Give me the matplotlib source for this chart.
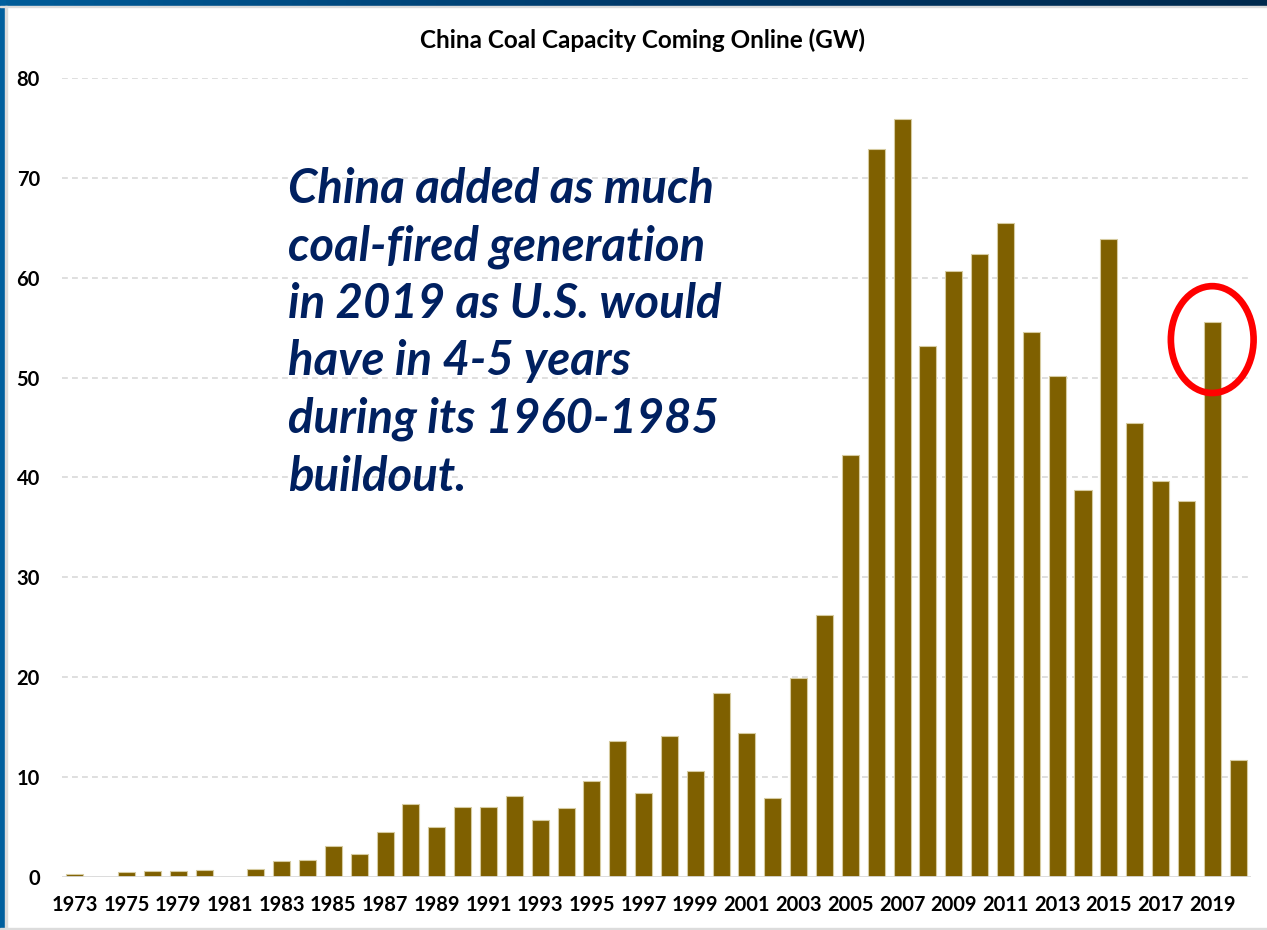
import matplotlib.pyplot as plt
import numpy as np
from matplotlib.colors import LinearSegmentedColormap
from matplotlib.patches import Ellipse

years = [1973, 1974, 1975, 1978, 1979, 1980, 1981, 1982, 1983, 1984,
         1985, 1986, 1987, 1988, 1989, 1990, 1991, 1992, 1993, 1994,
         1995, 1996, 1997, 1998, 1999, 2000, 2001, 2002, 2003, 2004,
         2005, 2006, 2007, 2008, 2009, 2010, 2011, 2012, 2013, 2014,
         2015, 2016, 2017, 2018, 2019, 2020]
capacity_gw = [0.3, 0.0, 0.45, 0.6, 0.55, 0.7, 0.0, 0.8, 1.6, 1.7,
               3.05, 2.25, 4.45, 7.3, 5.0, 7.0, 7.0, 8.05, 5.65, 6.9,
               9.6, 13.6, 8.4, 14.05, 10.55, 18.35, 14.35, 7.9, 19.9, 26.2,
               42.2, 72.9, 75.9, 53.2, 60.7, 62.4, 65.5, 54.55, 50.2, 38.7,
               63.9, 45.4, 39.6, 37.6, 55.55, 11.65]
y_ticks = [0, 10, 20, 30, 40, 50, 60, 70, 80]

title = "China Coal Capacity Coming Online (GW)"
callout = ("China added as much\n"
           "coal-fired generation\n"
           "in 2019 as U.S. would\n"
           "have in 4-5 years\n"
           "during its 1960-1985\n"
           "buildout.")
highlight_year = 2019

BAR = "#7f6000"
NAVY = "#002060"
GRID = "#d9d9d9"

W, H = 1267, 930
fig = plt.figure(figsize=(W / 100, H / 100), dpi=100)

# slide frame: blue bar on top, blue strip on the left, thin grey rules
top = fig.add_axes([0, 1 - 6 / H, 1, 6 / H])
frame_cmap = LinearSegmentedColormap.from_list("frame", ["#005d9a", "#003a6a", "#002a4e"])
top.imshow(np.linspace(0, 1, 256)[None, :], aspect="auto", cmap=frame_cmap,
           extent=[0, 1, 0, 1])
top.set_axis_off()
fig.patches.append(plt.Rectangle((0, 0), 5 / W, 1, transform=fig.transFigure,
                                 color="#005f9e", zorder=5))
fig.patches.append(plt.Rectangle((5 / W, 0), 1.5 / W, 1 - 6 / H, transform=fig.transFigure,
                                 color="#dcdcdc", zorder=5))
fig.patches.append(plt.Rectangle((0, 1 - 7.5 / H), 1, 1.5 / H, transform=fig.transFigure,
                                 color="#dcdcdc", zorder=5))
fig.patches.append(plt.Rectangle((0, 0.5 / H), 1, 1.5 / H, transform=fig.transFigure,
                                 color="#dcdcdc", zorder=5))

ax = fig.add_axes([62 / W, 1 - 876.7 / H, 1189 / W, (876.7 - 78) / H])
x = np.arange(len(years))
ax.bar(x, capacity_gw, width=0.66, color=BAR, edgecolor="#d6cba0", linewidth=0.8, zorder=3)

ax.set_xlim(-0.5, len(years) - 0.5)
ax.set_ylim(0, 80)
ax.set_yticks(y_ticks)
ax.set_yticklabels([str(v) for v in y_ticks])
ax.set_xticks(x[::2])
ax.set_xticklabels([str(y) for y in years[::2]])

for v in y_ticks[1:]:
    ax.axhline(v, color=GRID, lw=1.2, ls=(0, (3.5, 2.5)), zorder=1)
ax.axhline(0, color=GRID, lw=2, zorder=4)

for s in ax.spines.values():
    s.set_visible(False)
ax.tick_params(axis="both", length=0, labelsize=14.5, labelcolor="black")
ax.tick_params(axis="y", pad=16)
ax.tick_params(axis="x", pad=13)
for lbl in ax.get_xticklabels() + ax.get_yticklabels():
    lbl.set_fontfamily("Lato")
    lbl.set_fontweight("bold")

fig.text(643 / W, 1 - 40 / H, title, ha="center", va="center",
         fontsize=17.5, fontweight="bold", family="Lato", color="black")

fig.text(288 / W, 1 - 167 / H, callout, ha="left", va="top",
         fontsize=34, fontweight="bold", style="italic", family="Lato",
         color=NAVY, linespacing=1.37)

# circle the 2019 bar
hx = years.index(highlight_year)
ax.add_patch(Ellipse((hx, 53.8), width=3.2, height=10.7, fill=False,
                     edgecolor="#ff0000", lw=4.8, zorder=6, clip_on=False))

fig.savefig("out.png", dpi=100, facecolor="white")
